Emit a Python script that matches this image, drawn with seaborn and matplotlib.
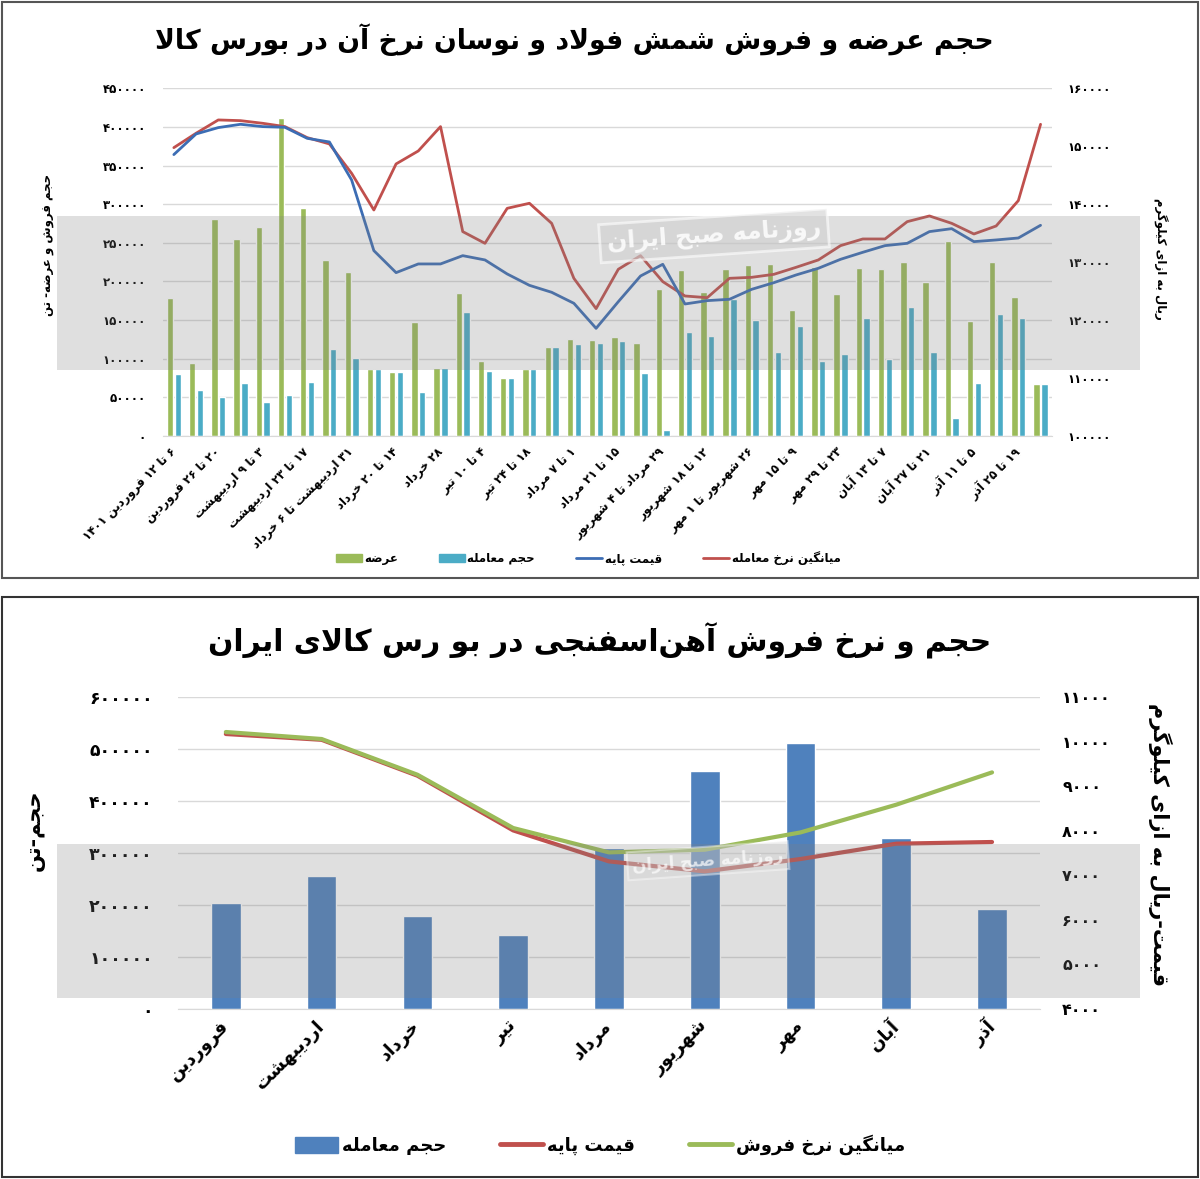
import matplotlib
matplotlib.use('Agg')
import matplotlib.pyplot as plt
from matplotlib.patches import Rectangle, Patch
from matplotlib.lines import Line2D
from matplotlib.ticker import FuncFormatter, MultipleLocator
import seaborn as sns
import numpy as np
import pandas as pd

# ---------------- data: top chart (weekly, 1401) ----------------
week_ticks = ['6 تا 12 فروردین 1401', '20 تا 26 فروردین', '3 تا 9 اردیبهشت',
              '17 تا 23 اردیبهشت', '31 اردیبهشت تا 6 خرداد', '14 تا 20 خرداد',
              '28 خرداد', '4 تا 10 تیر', '18 تا 24 تیر', '1 تا 7 مرداد',
              '15 تا 21 مرداد', '29 مرداد تا 4 شهریور', '12 تا 18 شهریور',
              '26 شهریور تا 1 مهر', '9 تا 15 مهر', '23 تا 29 مهر', '7 تا 13 آبان',
              '21 تا 27 آبان', '5 تا 11 آذر', '19 تا 25 آذر']

offer = [178000, 94000, 281000, 255000, 270000, 411000, 295000, 228000, 212000, 86700,
         82400, 147000, 88000, 185500, 97500, 75500, 86700, 114800, 125500, 123800,
         128100, 119900, 190200, 215300, 185900, 216100, 221300, 222200, 163100, 219100,
         183800, 217000, 216100, 224800, 198900, 252400, 148800, 224800, 180300, 67300]
traded = [79800, 59500, 50500, 68200, 44400, 52600, 69900, 112600, 101000, 86700,
          82400, 57000, 88000, 160500, 84100, 75500, 86700, 114800, 119500, 120400,
          122500, 81100, 8200, 134200, 129000, 177300, 150600, 109100, 142400, 97100,
          106100, 152700, 99200, 167400, 109100, 22900, 68600, 157500, 152700, 67300]
avg_trade_price = [149760, 152240, 154540, 154420, 153960, 153390, 151490, 150400, 145330, 139000,
                   146950, 149190, 153390, 135270, 133250, 139290, 140160, 136700, 127210, 121980,
                   128770, 131120, 126640, 124160, 123870, 127210, 127380, 127900, 129110, 130380,
                   132850, 134000, 134000, 136990, 137970, 136700, 134860, 136240, 140620, 153790]
base_price = [148560, 152120, 153220, 153790, 153390, 153270, 151370, 150740, 144180, 131990,
              128190, 129690, 129690, 131120, 130380, 127960, 126000, 124800, 122900, 118580,
              123180, 127610, 129630, 122780, 123360, 123590, 125310, 126460, 127790, 128940,
              130490, 131700, 132850, 133250, 135270, 135780, 133540, 133830, 134170, 136360]
weeks = np.arange(len(offer))

# ---------------- data: bottom chart (monthly) ----------------
months = ['فروردین', 'اردیبهشت', 'خرداد', 'تیر', 'مرداد', 'شهریور', 'مهر', 'آبان', 'آذر']
month_volume = [204000, 256000, 178000, 141500, 309600, 457000, 511500, 329000, 192000]
month_base = [10170, 10040, 9235, 8007, 7312, 7088, 7365, 7709, 7747]
month_avg = [10215, 10058, 9257, 8061, 7514, 7574, 7962, 8584, 9309]

# ---------------- simple Persian shaping (matplotlib has no bidi) ----------------
DUAL = {'ب': 0xFE8F, 'ت': 0xFE95, 'ث': 0xFE99, 'ج': 0xFE9D, 'ح': 0xFEA1, 'خ': 0xFEA5,
        'س': 0xFEB1, 'ش': 0xFEB5, 'ص': 0xFEB9, 'ض': 0xFEBD, 'ط': 0xFEC1, 'ظ': 0xFEC5,
        'ع': 0xFEC9, 'غ': 0xFECD, 'ف': 0xFED1, 'ق': 0xFED5, 'ل': 0xFEDD, 'م': 0xFEE1,
        'ن': 0xFEE5, 'ه': 0xFEE9, 'ي': 0xFEF1, 'پ': 0xFB56, 'چ': 0xFB7A, 'ک': 0xFB8E,
        'گ': 0xFB92, 'ی': 0xFBFC}
RIGHT = {'ا': 0xFE8D, 'آ': 0xFE81, 'د': 0xFEA9, 'ذ': 0xFEAB, 'ر': 0xFEAD, 'ز': 0xFEAF,
         'و': 0xFEED, 'ژ': 0xFB8A}
LAM_ALEF = {'ا': 0xFEFB, 'آ': 0xFEF5}
FA_DIGITS = '۰۱۲۳۴۵۶۷۸۹'
TO_FA = str.maketrans('0123456789', FA_DIGITS)


def jtype(c):
    if c == 'LA':
        return 'R'
    if c in DUAL:
        return 'D'
    if c in RIGHT:
        return 'R'
    return 'U'


def fa(text):
    text = text.translate(TO_FA)
    items = []
    i = 0
    while i < len(text):
        if text[i] == 'ل' and i + 1 < len(text) and text[i + 1] in LAM_ALEF:
            items.append(('LA', text[i + 1]))
            i += 2
        else:
            items.append((text[i], None))
            i += 1
    glyphs = []
    for k, (c, extra) in enumerate(items):
        if c == '\u200c':
            continue
        t = jtype(c)
        prev = items[k - 1][0] if k > 0 else None
        nxt = items[k + 1][0] if k + 1 < len(items) else None
        jp = t in 'DR' and prev is not None and jtype(prev) == 'D'
        jn = t == 'D' and nxt is not None and jtype(nxt) in 'DR'
        if c == 'LA':
            glyphs.append(chr(LAM_ALEF[extra] + (1 if jp else 0)))
        elif t == 'D':
            off = 3 if (jp and jn) else 1 if jp else 2 if jn else 0
            glyphs.append(chr(DUAL[c] + off))
        elif t == 'R':
            glyphs.append(chr(RIGHT[c] + (1 if jp else 0)))
        else:
            glyphs.append(c)
    tokens = []
    for g in glyphs:
        if g in FA_DIGITS and tokens and tokens[-1][0] in FA_DIGITS:
            tokens[-1] += g
        else:
            tokens.append(g)
    return ''.join(reversed(tokens))


fa_num = FuncFormatter(lambda v, p: f'{int(round(v))}'.translate(TO_FA))

sns.set_style('white')
plt.rcParams['font.family'] = ['DejaVu Sans']
plt.rcParams['font.weight'] = 'bold'
for key in ('text.color', 'axes.labelcolor', 'xtick.color', 'ytick.color'):
    plt.rcParams[key] = 'black'

GREEN = '#9BBB59'
AQUA = '#4BACC6'
BLUE = '#4F81BD'
LBLUE = '#3C6DB4'
RED = '#C0504D'

fig = plt.figure(figsize=(12, 11.79), dpi=100)

# ================= top chart =================
ax1 = fig.add_axes([0.1356, 0.6302, 0.7408, 0.2949])
top = pd.DataFrame({'week': weeks, fa('عرضه'): offer, fa('حجم معامله'): traded})
top = top.melt(id_vars='week', var_name='series', value_name='value')
sns.barplot(data=top, x='week', y='value', hue='series', palette=[GREEN, AQUA],
            width=0.7, gap=0.18, saturation=1, errorbar=None, legend=False, ax=ax1)
ax1.set_ylim(0, 450000)
ax1.yaxis.set_major_locator(MultipleLocator(50000))
ax1.yaxis.set_major_formatter(fa_num)
ax1.yaxis.grid(True, color='#d9d9d9', lw=1)
ax1.set_axisbelow(True)
ax1.set_xticks(weeks[::2])
ax1.set_xticklabels([fa(t) for t in week_ticks], rotation=45, ha='right', va='center',
                    rotation_mode='anchor', fontsize=8.5)
ax1.tick_params(axis='x', length=0, pad=10)
ax1.tick_params(axis='y', length=0, pad=12, labelsize=8.5)
ax1.set_xlabel('')
ax1.set_ylabel(fa('حجم فروش و عرضه- تن'), fontsize=8.5, fontweight='bold')
ax1.yaxis.set_label_coords(-0.121, 0.55)

ax2 = ax1.twinx()
sns.lineplot(x=weeks, y=avg_trade_price, color=RED, lw=2, ax=ax2)
sns.lineplot(x=weeks, y=base_price, color=LBLUE, lw=2, ax=ax2)
ax2.set_ylim(100000, 160000)
ax2.yaxis.set_major_locator(MultipleLocator(10000))
ax2.yaxis.set_major_formatter(fa_num)
ax2.tick_params(axis='y', length=0, pad=11, labelsize=8.5)
ax2.set_ylabel(fa('ریال به ازای کیلوگرم'), fontsize=8.5, fontweight='bold',
               rotation=270, va='center', ha='center')
ax2.yaxis.set_label_coords(1.122, 0.51)
ax1.set_xlim(-0.5, len(weeks) - 0.5)

for ax in (ax1, ax2):
    for s in ax.spines.values():
        s.set_visible(False)
ax1.spines['bottom'].set_visible(True)
ax1.spines['bottom'].set_color('#d9d9d9')

fig.text(0.479, 0.966, fa('حجم عرضه و فروش شمش فولاد و نوسان نرخ آن در بورس کالا'),
         ha='center', va='center', fontsize=19.3, fontweight='bold')

h_top = [Patch(color=GREEN), Patch(color=AQUA),
         Line2D([], [], color=LBLUE, lw=2), Line2D([], [], color=RED, lw=2)]
l_top = [fa('عرضه'), fa('حجم معامله'), fa('قیمت پایه'), fa('میانگین نرخ معامله')]
fig.legend(h_top, l_top, loc='center', bbox_to_anchor=(0.49, 0.5267), ncol=4,
           frameon=False, fontsize=8.5, handlelength=2.2, handleheight=0.6,
           columnspacing=3.5, handletextpad=0.2)

# ================= bottom chart =================
ax3 = fig.add_axes([0.1483, 0.1442, 0.7183, 0.2646])
bottom = pd.DataFrame({'month': [fa(m) for m in months], 'volume': month_volume})
sns.barplot(data=bottom, x='month', y='volume', color=BLUE, width=0.31,
            saturation=1, errorbar=None, ax=ax3)
ax3.set_ylim(0, 600000)
ax3.yaxis.set_major_locator(MultipleLocator(100000))
ax3.yaxis.set_major_formatter(fa_num)
ax3.yaxis.grid(True, color='#d9d9d9', lw=1)
ax3.set_axisbelow(True)
ax3.tick_params(axis='x', length=0, pad=10, labelsize=13)
ax3.tick_params(axis='y', length=0, pad=18, labelsize=12.5)
plt.setp(ax3.get_xticklabels(), rotation=45, ha='right', va='center', rotation_mode='anchor')
ax3.set_xlabel('')
ax3.set_ylabel(fa('حجم-تن'), fontsize=15, fontweight='bold')
ax3.yaxis.set_label_coords(-0.154, 0.574)

ax4 = ax3.twinx()
pos = np.arange(len(months))
sns.lineplot(x=pos, y=month_base, color=RED, lw=3, ax=ax4)
sns.lineplot(x=pos, y=month_avg, color=GREEN, lw=3, ax=ax4)
ax4.set_ylim(4000, 11000)
ax4.yaxis.set_major_locator(MultipleLocator(1000))
ax4.yaxis.set_major_formatter(fa_num)
ax4.tick_params(axis='y', length=0, pad=16, labelsize=11.5)
ax4.set_ylabel(fa('قیمت-ریال به ازای کیلوگرم'), fontsize=15, fontweight='bold',
               rotation=270, va='center', ha='center')
ax4.yaxis.set_label_coords(1.139, 0.526)
ax3.set_xlim(-0.5, len(months) - 0.5)

for ax in (ax3, ax4):
    for s in ax.spines.values():
        s.set_visible(False)
ax3.spines['bottom'].set_visible(True)
ax3.spines['bottom'].set_color('#d9d9d9')

fig.text(0.5, 0.457, fa('حجم و نرخ فروش آهن\u200cاسفنجی در بو رس کالای ایران'),
         ha='center', va='center', fontsize=21.4, fontweight='bold')

h_bot = [Patch(color=BLUE), Line2D([], [], color=RED, lw=3.5),
         Line2D([], [], color=GREEN, lw=3.5)]
l_bot = [fa('حجم معامله'), fa('قیمت پایه'), fa('میانگین نرخ فروش')]
fig.legend(h_bot, l_bot, loc='center', bbox_to_anchor=(0.5, 0.0288), ncol=3,
           frameon=False, fontsize=13, handlelength=2.4, handleheight=1.0,
           columnspacing=3.0, handletextpad=0.2)

# ================= watermark bands and panel frames =================
for y0 in (0.6862, 0.1535):
    fig.add_artist(Rectangle((0.0475, y0), 0.9025, 0.1303, transform=fig.transFigure,
                             color='#808080', alpha=0.25, lw=0, zorder=10))
fig.text(0.595, 0.80, fa('روزنامه صبح ایران'), ha='center', va='center', fontsize=17,
         color='white', alpha=0.85, rotation=4, zorder=11,
         bbox=dict(boxstyle='square,pad=0.3', fc='#d0d0d0', ec='white', lw=2, alpha=0.6))
fig.text(0.59, 0.27, fa('روزنامه صبح ایران'), ha='center', va='center', fontsize=12,
         color='white', alpha=0.7, rotation=4, zorder=11,
         bbox=dict(boxstyle='square,pad=0.3', fc='#d0d0d0', ec='white', lw=1.5, alpha=0.4))

fig.add_artist(Rectangle((0.002, 1 - 578 / 1179), 0.996, 576 / 1179,
                         transform=fig.transFigure, fill=False, ec='#555555', lw=1.5))
fig.add_artist(Rectangle((0.002, 0.0017), 0.996, 580 / 1179,
                         transform=fig.transFigure, fill=False, ec='#333333', lw=1.5))

fig.savefig('out.png', dpi=100)
